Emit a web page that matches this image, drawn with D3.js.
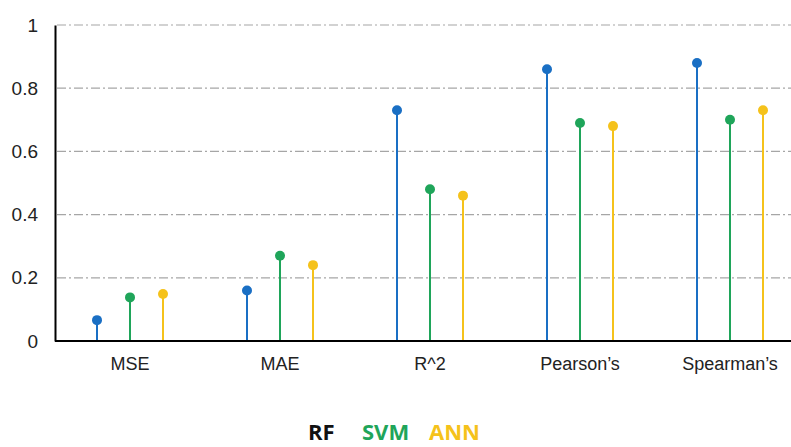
<!DOCTYPE html>
<html><head><meta charset="utf-8">
<script src="https://cdn.jsdelivr.net/npm/d3@7"></script>
<style>body{margin:0;background:#fff;} svg{display:block;}</style>
</head><body>
<svg id="c" width="791" height="447"></svg>
<script>
const categories = ["MSE", "MAE", "R^2", "Pearson\u2019s", "Spearman\u2019s"];
const seriesNames = ["RF", "SVM", "ANN"];
const rfValues  = [0.066, 0.16, 0.73, 0.86, 0.88];
const svmValues = [0.138, 0.27, 0.48, 0.69, 0.70];
const annValues = [0.149, 0.24, 0.46, 0.68, 0.73];
const yTicks = [0, 0.2, 0.4, 0.6, 0.8, 1];
const yTickLabels = ["0", "0.2", "0.4", "0.6", "0.8", "1"];
const seriesColors = ["#1a6fc4", "#1fa55a", "#f5c21b"];
const legendColors = ["#111111", "#1fa55a", "#f5c21b"];

const svg = d3.select("#c");
const x = d3.scaleBand().domain(categories).range([55, 805]);
const y = d3.scaleLinear().domain([0, 1]).range([341, 25]);
const off = d3.scaleOrdinal().domain(seriesNames).range([-33, 0, 33]);
const allSeries = [rfValues, svmValues, annValues];

// gridlines
svg.append("g").selectAll("line").data(yTicks.filter(d => d > 0)).join("line")
  .attr("x1", 57).attr("x2", 791)
  .attr("y1", d => y(d)).attr("y2", d => y(d))
  .attr("stroke", "#a6a6a6").attr("stroke-width", 1.2)
  .attr("stroke-dasharray", "9,3,2,3");

// stems and dots
allSeries.forEach((vals, si) => {
  const g = svg.append("g");
  const cx = (d, i) => x(categories[i]) + x.bandwidth() / 2 + off(seriesNames[si]);
  g.selectAll("line").data(vals).join("line")
    .attr("x1", cx).attr("x2", cx)
    .attr("y1", y(0)).attr("y2", d => y(d))
    .attr("stroke", seriesColors[si]).attr("stroke-width", 2);
  g.selectAll("circle").data(vals).join("circle")
    .attr("cx", cx).attr("cy", d => y(d)).attr("r", 5)
    .attr("fill", seriesColors[si]);
});

// y axis
const yAxis = d3.axisLeft(y).tickValues(yTicks).tickFormat((d, i) => yTickLabels[i]).tickSize(0).tickPadding(17);
const ya = svg.append("g").attr("transform", "translate(55,0)").call(yAxis);
ya.select(".domain").attr("stroke", "#000").attr("stroke-width", 2);
ya.selectAll("text").attr("font-family", "Liberation Sans, Arial, sans-serif").attr("font-size", 19).attr("fill", "#222");

// x axis
const xAxis = d3.axisBottom(x).tickSize(0).tickPadding(16);
const xa = svg.append("g").attr("transform", "translate(0,341)").call(xAxis);
xa.select(".domain").attr("stroke", "#000").attr("stroke-width", 2).attr("d", "M55,0H805");
xa.selectAll("text").attr("font-family", "Liberation Sans, Arial, sans-serif").attr("font-size", 18).attr("fill", "#222");

// legend
const legendX = [308, 362, 429];
svg.append("g").selectAll("text").data(seriesNames).join("text")
  .attr("x", (d, i) => legendX[i]).attr("y", 440)
  .attr("font-family", "Open Sans, Lato, sans-serif").attr("font-weight", "bold")
  .attr("font-size", 22).attr("fill", (d, i) => legendColors[i])
  .text(d => d);
</script>
</body></html>
